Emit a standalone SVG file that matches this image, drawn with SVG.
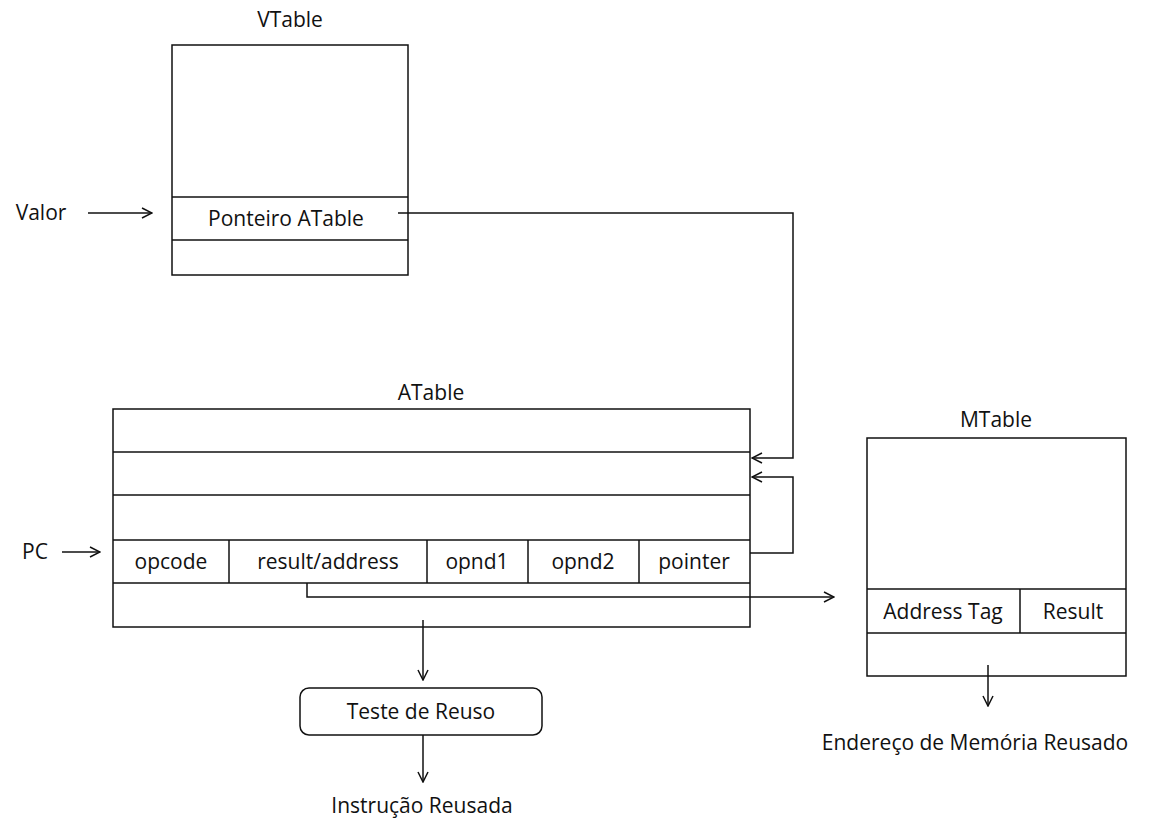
<svg xmlns="http://www.w3.org/2000/svg" width="1163" height="827" viewBox="0 0 1163 827">
<style>
.box{fill:#fff;stroke:#111;stroke-width:1.5}
.ln{stroke:#111;stroke-width:1.5;fill:none}
.t{font-family:"Open Sans","Liberation Sans",Arial,sans-serif;font-size:21px;fill:#111;text-anchor:middle}
.c{stroke:#111;stroke-width:1.5;fill:none;marker-end:url(#ah)}
</style>
<defs>
<marker id="ah" viewBox="0 0 12 12" refX="11" refY="6" markerWidth="12" markerHeight="12" markerUnits="userSpaceOnUse" orient="auto">
<path d="M1,1 L11,6 L1,11" fill="none" stroke="#111" stroke-width="1.5"/>
</marker>
</defs>
<rect width="1163" height="827" fill="#fff"/>
<g id="vtable">
<text class="t" x="290" y="27">VTable</text>
<rect class="box" x="172" y="45" width="236" height="230"/>
<line class="ln" x1="172" y1="197" x2="408" y2="197"/>
<line class="ln" x1="172" y1="240" x2="408" y2="240"/>
<text class="t" x="286" y="226">Ponteiro ATable</text>
</g>
<g id="valor"><text class="t" x="41" y="220">Valor</text></g>
<g id="pc"><text class="t" x="35" y="559">PC</text></g>
<g id="atable">
<text class="t" x="431" y="400">ATable</text>
<rect class="box" x="113" y="409" width="637" height="218"/>
<line class="ln" x1="113" y1="452" x2="750" y2="452"/>
<line class="ln" x1="113" y1="495" x2="750" y2="495"/>
<line class="ln" x1="113" y1="540" x2="750" y2="540"/>
<line class="ln" x1="113" y1="583" x2="750" y2="583"/>
<line class="ln" x1="229" y1="540" x2="229" y2="583"/>
<line class="ln" x1="427" y1="540" x2="427" y2="583"/>
<line class="ln" x1="528" y1="540" x2="528" y2="583"/>
<line class="ln" x1="639" y1="540" x2="639" y2="583"/>
<text class="t" x="171" y="569">opcode</text>
<text class="t" x="328" y="569">result/address</text>
<text class="t" x="477" y="569">opnd1</text>
<text class="t" x="583" y="569">opnd2</text>
<text class="t" x="694" y="569">pointer</text>
</g>
<g id="mtable">
<text class="t" x="996" y="427">MTable</text>
<rect class="box" x="867" y="438" width="259" height="238"/>
<line class="ln" x1="867" y1="589" x2="1126" y2="589"/>
<line class="ln" x1="867" y1="633" x2="1126" y2="633"/>
<line class="ln" x1="1020" y1="589" x2="1020" y2="633"/>
<text class="t" x="943" y="619">Address Tag</text>
<text class="t" x="1073" y="619">Result</text>
</g>
<g id="teste">
<rect class="box" x="300" y="688" width="242" height="47" rx="9"/>
<text class="t" x="421" y="719">Teste de Reuso</text>
</g>
<g id="outputs">
<text class="t" x="422" y="813">Instrução Reusada</text>
<text class="t" x="975" y="750">Endereço de Memória Reusado</text>
</g>
<g id="connectors">
<path class="c" d="M398,213 H793 V458 H752"/>
<path class="c" d="M750,553 H793 V477 H752"/>
<path class="c" d="M88,213 H152"/>
<path class="c" d="M62,552 H100"/>
<path class="c" d="M307,583 V597 H834"/>
<path class="c" d="M423,620 V680"/>
<path class="c" d="M423,735 V782"/>
<path class="c" d="M988,665 V706"/>
</g>
</svg>
